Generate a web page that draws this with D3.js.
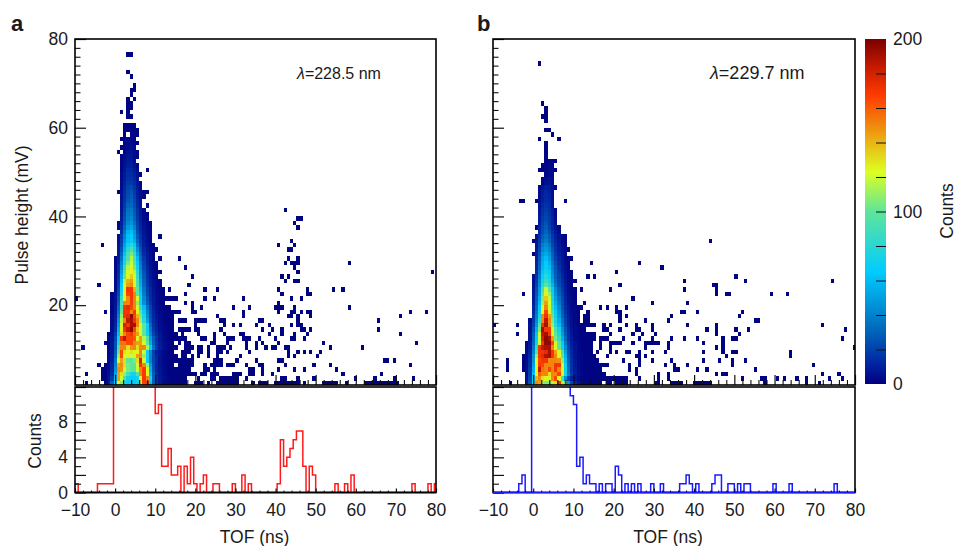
<!DOCTYPE html>
<html><head><meta charset="utf-8">
<style>html,body{margin:0;padding:0;background:#fff}svg{display:block}text{font-family:"Liberation Sans",Helvetica,Arial,sans-serif;fill:#1a1a1a}</style>
<script src="https://cdn.jsdelivr.net/npm/d3@7"></script></head><body><div id="c"></div>
<script>
const tofMajor=[-10,0,10,20,30,40,50,60,70,80];
const tofMinor=[-8,-6,-4,-2,2,4,6,8,12,14,16,18,22,24,26,28,32,34,36,38,42,44,46,48,52,54,56,58,62,64,66,68,72,74,76,78];
const heightMajor=[20,40,60,80];
const heightMinor=[4,6,8,10,12,14,16,18,22,24,26,28,30,32,34,36,38,42,44,46,48,50,52,54,56,58,62,64,66,68,70,72,74,76,78];
const countMajor=[0,2,4,6,8,10,12];
const countLabels=[0,4,8];
const countMinor=[1,3,5,7,9,11];
const barMajor=[0,100,200];
const barMinor=[20,40,60,80,120,140,160,180];
const colorValues=[0,10,34,65,100,123,146,167,185,200];
const colorStops=["#00007f","#001f9f","#0070c0","#00ccff","#5fe59a","#ddff22","#ee9a10","#ff3c00","#c01800","#7a0000"];

// [pulse-height bin (mV), first TOF bin, counts...]  TOF bin width 0.8 ns
const coreA=[
[2,9,2,12,30,65,125,105,75,68,65,65,70,130,165,170,62,28,14,8,5,3,2,1],
[3,9,1,6,18,60,145,120,95,70,66,66,72,125,170,150,70,30,15,8,5,3,2,1],
[4,9,1,5,14,50,145,130,110,90,75,72,95,150,168,125,60,28,14,7,4,2,1],
[5,9,1,4,12,45,150,148,125,105,100,98,120,150,168,125,55,26,12,7,4,2,1],
[6,9,1,4,12,40,145,150,130,105,100,100,120,170,150,110,50,24,12,6,3,2,1],
[7,10,3,10,35,120,145,130,100,100,105,130,180,125,65,40,22,12,6,3,2,1],
[8,10,3,9,30,110,165,125,125,120,125,145,150,110,70,40,22,12,6,3,2,1],
[9,10,2,8,28,100,165,130,125,130,125,125,150,120,68,40,20,10,6,3,2,1],
[10,10,2,7,25,90,150,150,130,148,150,130,150,150,115,65,35,18,10,5,3,2,1],
[11,10,2,7,25,75,155,155,165,165,150,145,145,125,100,55,30,16,9,5,3,2,1],
[12,10,2,6,22,70,170,185,165,165,160,125,145,115,95,50,28,15,8,4,2,1],
[13,10,1,5,18,60,130,150,165,170,155,145,125,100,70,40,22,12,7,3,2,1],
[14,11,4,14,55,125,170,185,195,165,135,120,100,65,35,18,10,5,3,2,1],
[15,11,4,12,50,125,180,170,190,190,150,125,100,68,32,16,9,5,3,1],
[16,11,3,10,45,115,150,185,190,170,150,110,80,50,26,14,8,4,2,1],
[17,11,3,9,40,110,170,175,195,165,140,105,75,45,24,12,7,4,2,1],
[18,11,2,8,35,100,170,170,150,170,125,100,68,40,22,12,6,3,2,1],
[19,11,2,7,32,90,170,175,165,150,125,85,60,35,20,10,5,3,1],
[20,11,2,6,28,90,150,150,168,150,110,72,45,28,16,8,4,2,1],
[21,11,2,6,25,85,125,150,170,150,120,70,42,25,14,8,4,2,1],
[22,11,1,5,22,75,125,165,170,150,100,65,38,22,13,7,4,2,1],
[23,12,4,20,70,120,170,170,140,100,60,35,20,12,6,3,2,1],
[24,12,4,18,65,120,145,150,125,95,55,32,18,10,5,3,1],
[25,12,4,16,60,115,140,145,125,90,52,30,16,9,5,3,1],
[26,12,3,14,55,100,125,135,120,85,48,28,14,8,4,2],
[27,12,3,12,50,95,125,125,115,80,44,25,13,7,4,2,1],
[28,12,3,12,45,85,115,125,105,70,40,22,12,6,3,1],
[29,12,3,10,40,75,105,120,100,65,36,20,10,5,3,1],
[30,12,3,9,35,70,95,115,95,60,32,18,9,5,2],
[31,13,8,30,62,90,105,85,52,28,14,8,4,2],
[32,13,7,26,56,80,95,75,45,24,12,7,3,1],
[33,13,6,22,50,70,80,65,38,20,10,5,2,1],
[34,13,5,20,44,62,68,55,32,18,9,4,2],
[35,13,4,18,40,60,65,50,28,16,8,4,2],
[36,14,14,35,55,60,46,24,14,7,3,2],
[37,13,3,12,30,48,52,40,22,12,6,3,1],
[38,13,2,10,26,42,46,34,20,10,5,2,1],
[39,14,9,24,38,42,30,18,9,4,2],
[40,14,8,22,36,38,28,16,8,3],
[41,14,7,20,34,36,26,15,7,3],
[42,14,6,18,30,32,24,13,6,0,2],
[43,14,6,16,26,30,22,12,5],
[44,14,5,14,24,28,20,10,4,2],
[45,13,1,5,14,22,26,18,9,4,2,1],
[46,14,4,12,20,22,16,8,3],
[47,14,4,10,18,18,14,7,3],
[48,14,3,9,16,15,12,6],
[49,14,3,8,14,14,10,5,2],
[50,14,2,7,12,12,8,4],
[51,14,2,6,10,10,6,3],
[52,14,2,5,8,8,5],
[53,14,1,4,7,7,4,2],
[54,15,1,5,6,4,2],
[55,14,1,3,4,5,3],
[56,15,2,4,3,2,1],
[57,14,1,2,3,3,1],
[58,15,1,0,2,2,1],
[59,15,1,1,2,2,1],
[60,15,1,1,1,1]];
// [pulse-height bin, isolated occupied TOF bins...]
const sparseA=[
[2,3,30,31,32,33,34,37,38,39,41,44,45,46,47,48,49,50,55,57,58,59,62,63,64,65,66,67,68,69,71,77,78,79,80,81,84,90,91,92,93,94,95,96,97,98,99,100],
[3,8,29,30,31,32,33,34,38,42,43,45,46,47,48,49,50,53,64,65,69,74,87,93,99,105],
[4,3,8,29,30,31,32,33,34,35,36,37,39,40,42,43,44,49,50,51,54,55,58,61,83,95],
[5,8,28,29,30,31,32,33,34,35,40,41,43,54,55,58,63,68,71,81],
[6,7,28,29,30,32,33,34,35,36,40,42,43,44,45,47,48,49,53,57,58,65,74,79,104],
[7,28,29,30,31,32,33,34,35,36,43,44,45,50,56,63,64,96,97,99],
[8,28,29,30,31,33,34,36,38,41,44,51,66,68,75],
[9,28,29,30,33,34,35,38,39,41,44,45,47,54,66,69,71,73,76],
[10,2,28,29,30,31,34,35,36,38,39,41,44,45,46,48,53,56,59,61,62,65,66,79,89],
[11,9,28,29,30,32,34,35,42,43,47,53,56,58,63,77,106],
[12,27,28,29,30,31,32,33,34,39,40,43,47,48,49,52,53,54,57,62,67,68,71],
[13,27,28,29,30,31,33,38,43,46,51,52,60,64,68,72,101],
[14,27,28,30,32,33,34,35,37,38,45,58,61,64,70,71,73,94],
[15,28,29,30,37,46,49,51,56,60,67,69,70],
[16,28,29,30,32,33,34,37,38,39,40,45,46,57,58,69,94],
[17,28,29,30,44,52,66,67,69,73,101],
[18,9,29,30,31,32,36,37,52,63,67,68,70,72,73,104,109],
[19,28,29,36,39,49,54,62,63,64,68,85],
[20,34,36,63],
[21,0,28,29,30,31,40,43,52,67,70],
[22,34,64,72,73],
[23,26,29,40,44,63,72,80,83],
[24,7,35],
[25,65,68,69],
[26,36,64,66],
[27,69,111],
[28,34,68],
[29,65,67,68,69,85],
[30,26,32,66,69],
[32,25,66,67],
[33,8,63,68],
[34,67],
[35,26],
[37,69],
[38,68],
[39,69,70],
[40,22],
[41,65],
[50,22],
[54,13],
[62,16,17],
[63,14,16],
[64,16,17],
[65,16,17],
[66,16,18],
[67,17],
[68,17,18],
[69,18],
[71,17],
[72,16],
[76,16,17]];
const histA=[1,0,0,0,0,0,0,1,1,1,1,1,15,15,15,15,15,15,15,15,15,15,15,15,15,9,10,3,3,5,2,2,3,0,3,1,4,1,0,1,2,0,0,1,1,0,0,0,0,1,0,0,2,0,1,0,0,0,0,0,0,0,0,1,6,3,4,5,6,7,7,3,0,3,2,0,0,0,0,0,0,1,0,0,1,0,2,0,0,0,0,0,0,0,0,0,0,0,0,0,0,0,0,0,0,1,0,0,0,0,1,0,1];

const coreB=[
[2,10,8,25,70,150,145,110,105,105,115,130,170,130,100,45,22,12,7,4,2,1],
[3,10,6,22,65,140,150,130,125,125,150,165,125,90,42,20,10,6,3,2,1],
[4,10,5,20,60,125,160,150,150,130,150,150,165,125,72,38,18,9,5,3,1],
[5,10,5,18,55,125,185,155,150,165,150,170,150,125,70,35,16,8,4,2,1],
[6,10,4,16,50,120,170,165,150,150,150,170,170,120,68,32,15,8,4,2,1],
[7,10,4,14,48,125,165,170,170,150,150,150,148,110,62,30,14,7,4,2,1],
[8,10,3,12,45,110,170,175,188,190,170,150,125,100,55,28,13,6,3,2,1],
[9,10,3,10,40,95,170,170,175,190,170,145,125,90,50,25,12,6,3,2,1],
[10,10,3,9,36,85,170,185,190,190,150,125,100,70,42,22,11,6,3,1],
[11,10,2,8,32,70,125,170,195,195,165,125,100,65,38,20,10,5,3,1],
[12,11,7,30,65,120,180,195,190,145,105,85,55,32,16,8,4,2,1],
[13,11,6,28,62,125,185,190,170,125,100,78,50,28,14,7,3,2,1],
[14,11,5,24,55,105,190,170,170,125,95,70,45,25,13,6,3,2,1],
[15,11,5,20,48,100,170,190,150,110,80,60,38,22,11,5,3,1],
[16,11,4,18,42,85,150,185,150,105,75,55,34,20,10,5,2,1],
[17,12,16,38,75,150,170,145,100,70,50,30,18,9,5,2,1],
[18,12,14,35,70,125,165,125,95,65,46,28,16,8,4,2,1],
[19,12,12,32,65,120,150,120,85,60,42,26,14,7,3,2,1],
[20,12,10,30,60,110,145,122,80,55,38,24,12,6,3,1],
[21,12,9,28,55,105,135,118,75,50,34,22,11,5,3,1],
[22,12,8,26,50,100,125,110,70,46,30,20,10,5,2,1],
[23,12,7,24,48,90,118,100,65,42,28,18,9,4,2,1],
[24,12,6,20,44,80,100,85,58,36,24,16,8,4,2],
[25,12,5,18,42,72,88,78,52,32,22,14,7,3,2,1],
[26,12,5,16,38,66,80,70,46,30,20,12,6,3,1],
[27,13,14,35,62,72,66,42,28,18,10,5,3,1],
[28,13,12,32,58,68,60,40,26,16,9,5,2],
[29,13,12,30,55,65,56,36,24,14,8,4,2],
[30,13,10,28,52,60,50,32,20,12,7,3,2,1],
[31,12,1,9,25,48,54,46,30,18,10,6,3],
[32,13,8,22,42,48,40,26,16,9,5,3,1],
[33,13,7,20,38,44,36,22,14,8,4,2],
[34,12,1,6,18,32,38,30,20,12,7,3,1],
[35,13,5,16,28,34,28,18,10,6,3,1],
[36,14,14,24,30,24,14,8,4],
[37,13,1,12,22,28,20,12,6,3],
[38,14,10,20,25,18,10,5],
[39,14,9,18,22,17,10,4],
[40,14,8,16,20,16,9,3],
[41,14,7,15,18,15,8,3],
[42,14,6,13,16,13,6],
[43,13,1,5,11,14,12,5],
[44,14,4,10,13,11,5],
[45,14,4,9,12,10,4],
[46,14,3,7,10,9,5,2],
[47,15,2,5,6,4],
[48,15,2,4,6,4],
[49,16,2,4,3],
[50,14,1,1,2,3,3,1],
[51,15,1,2,3,2],
[52,16,1,2,2,1],
[53,16,1],
[54,16,1],
[55,16,1],
[56,16,1]];
const sparseB=[
[2,5,11,30,31,32,33,35,36,38,39,40,41,50,51,55,56,57,58,62,63,64,65,66,67,84,97,101],
[3,29,30,31,32,33,34,35,36,37,38,39,40,41,45,51,54,77,83,84,88,90,94,97,104,108],
[4,29,30,31,32,33,34,44,51,54,69,71,72,102,107],
[5,4,9,29,30,31,32,33,42,44,56,57,63,66,81],
[6,4,9,29,30,31,32,33,34,35,42,45,53,56,60,74,99],
[7,4,9,29,30,31,32,40,45,49,55,65,70,74,78],
[8,9,28,29,30,31,35,44,45,47,72,92],
[9,28,29,30,32,36,38,41,42,45,49,53,65,71,74,75,92],
[10,10,28,29,30,33,36,47,54,69,71,112],
[11,28,29,30,33,36,37,38,39,43,47,48,49,50,51,54,65,71],
[12,28,29,30,31,33,34,35,40,45,49,55,59,63,71,74,75,108],
[13,7,28,29,30,31,36,43,46,50,69,76],
[14,11,27,28,34,35,39,44,45,49,66,69,75,79,109],
[15,0,7,26,27,28,29,30,31,34,36,41,44,49,60,69,102],
[16,28,29,39,47,54,81,82],
[17,28,29,39,41,55,76],
[18,25,26,29,38,39,58,59,63,77],
[19,25,26,27,33,35,38,41],
[20,28,49,60],
[21,25,43],
[22,9,69,72,73,86,91],
[23,25,27,36,59,69],
[24,39,68,69],
[25,24,25,59,78,105],
[26,29,31,75],
[27,38],
[28,52],
[29,30,45],
[34,67],
[43,8,9,22],
[50,14,19],
[57,14,20],
[58,18],
[59,16,17],
[61,16],
[62,15,16],
[63,16],
[64,16],
[65,15],
[74,14]];
const histB=[0,0,0,0,0,0,0,0,1,2,0,0,15,15,15,15,15,15,15,15,15,15,15,15,11,10,3,4,1,2,1,1,0,1,0,1,1,0,3,2,0,1,0,1,0,1,0,0,0,1,0,0,1,0,0,0,0,0,1,1,2,1,0,1,0,0,0,0,1,2,2,0,0,1,1,0,1,0,1,1,0,0,0,0,0,0,0,1,0,0,0,0,1,0,0,0,0,0,0,0,0,0,0,0,0,0,1,0,0,0,0,0,0];

const panels=[
 {id:"a",x0:75,x1:436,core:coreA,sparse:sparseA,hist:histA,color:"#ff1a1a",lambda:"=228.5 nm",lx:297,lfs:16,labelX:11,yLabels:true},
 {id:"b",x0:493,x1:855,core:coreB,sparse:sparseB,hist:histB,color:"#1a1aff",lambda:"=229.7 nm",lx:710,lfs:18,labelX:477,yLabels:false}
];
const W=956,H=546,top2=39,bot2=385,top1=387,bot1=492.5,fs=17.5;
const svg=d3.select("#c").append("svg").attr("width",W).attr("height",H);
const color=d3.scaleLinear().domain(colorValues).range(colorStops).clamp(true);
const binW=0.8;

panels.forEach((p,i)=>{
  const x=d3.scaleLinear().domain([-10,80]).range([p.x0,p.x1]);
  const y=d3.scaleLinear().domain([2,80]).range([bot2,top2]);
  const yh=d3.scaleLinear().domain([0,12]).range([bot1,top1]);
  const g=svg.append("g");
  const cid="clip"+i, cid2="cliph"+i;
  const defs=svg.append("defs");
  defs.append("clipPath").attr("id",cid).append("rect").attr("x",p.x0).attr("y",top2).attr("width",p.x1-p.x0).attr("height",bot2-top2);
  defs.append("clipPath").attr("id",cid2).append("rect").attr("x",p.x0).attr("y",top1).attr("width",p.x1-p.x0).attr("height",bot1-top1+1);
  const cells=[];
  p.sparse.forEach(r=>r.slice(1).forEach(c=>cells.push({h:r[0],c:c,v:1})));
  p.core.forEach(r=>r.slice(2).forEach((v,k)=>{if(v>0)cells.push({h:r[0],c:r[1]+k,v:v});}));
  g.append("g").attr("clip-path",`url(#${cid})`).attr("shape-rendering","crispEdges")
   .selectAll("rect").data(cells).join("rect")
   .attr("x",d=>x(-10+binW*d.c)).attr("width",d=>x(-10+binW*(d.c+1))-x(-10+binW*d.c))
   .attr("y",d=>y(d.h+1)).attr("height",d=>y(d.h)-y(d.h+1)).attr("fill",d=>color(d.v));

  const line=d3.line().curve(d3.curveStepAfter).x(d=>x(-10+binW*d[0])).y(d=>yh(d[1]));
  const pts=p.hist.map((v,k)=>[k,v]);pts.push([p.hist.length,p.hist[p.hist.length-1]]);
  g.append("path").attr("clip-path",`url(#${cid2})`).attr("d",line(pts)).attr("fill","none").attr("stroke",p.color).attr("stroke-width",1.5);

  const style=(s,sw)=>{s.select(".domain").remove();s.selectAll("line").attr("stroke","#111").attr("stroke-width",sw);s.selectAll("text").attr("font-size",fs).attr("fill","#1a1a1a").attr("font-family",'"Liberation Sans",Arial,sans-serif');};
  g.append("g").attr("transform",`translate(0,${bot2})`).call(d3.axisBottom(x).tickValues(tofMajor).tickSize(-10).tickFormat("")).call(style,1.2);
  g.append("g").attr("transform",`translate(0,${bot2})`).call(d3.axisBottom(x).tickValues(tofMinor).tickSize(-5).tickFormat("")).call(style,1.1);
  g.append("g").attr("transform",`translate(${p.x0},0)`).call(d3.axisLeft(y).tickValues(heightMajor).tickSize(-11).tickPadding(7).tickFormat(p.yLabels?d3.format("d"):"")).call(style,1.2);
  g.append("g").attr("transform",`translate(${p.x0},0)`).call(d3.axisLeft(y).tickValues(heightMinor).tickSize(-5.5).tickFormat("")).call(style,1.1);
  g.append("g").attr("transform",`translate(0,${bot1})`).call(d3.axisBottom(x).tickValues(tofMajor).tickSize(-4).tickPadding(11)).call(style,1.2);
  g.append("g").attr("transform",`translate(0,${bot1})`).call(d3.axisBottom(x).tickValues(tofMinor).tickSize(-2).tickFormat("")).call(style,1);
  g.append("g").attr("transform",`translate(${p.x0},0)`).call(d3.axisLeft(yh).tickValues(countMajor).tickSize(-11).tickPadding(7).tickFormat(d=>(p.yLabels&&countLabels.includes(d))?d:"")).call(style,1.2);
  g.append("g").attr("transform",`translate(${p.x0},0)`).call(d3.axisLeft(yh).tickValues(countMinor).tickSize(-6).tickFormat("")).call(style,1.1);
  g.append("rect").attr("x",p.x0).attr("y",top2).attr("width",p.x1-p.x0).attr("height",bot2-top2).attr("fill","none").attr("stroke","#000").attr("stroke-width",1.6);
  g.append("rect").attr("x",p.x0).attr("y",top1).attr("width",p.x1-p.x0).attr("height",bot1-top1).attr("fill","none").attr("stroke","#000").attr("stroke-width",1.6);
  g.append("line").attr("x1",p.x0).attr("x2",p.x1).attr("y1",bot1).attr("y2",bot1).attr("stroke","#000").attr("stroke-width",1.5);
  if(i===1) g.append("line").attr("x1",p.x0).attr("x2",p.x1).attr("y1",bot1).attr("y2",bot1).attr("stroke",p.color).attr("stroke-width",1.2);
  svg.append("text").attr("x",p.labelX).attr("y",31).attr("font-size",22).attr("font-weight","bold").attr("fill","#000").text(p.id);
  const l=svg.append("text").attr("x",p.lx).attr("y",79).attr("font-size",p.lfs);
  l.append("tspan").attr("font-style","italic").text("λ");
  l.append("tspan").text(p.lambda);
  svg.append("text").attr("x",(p.x0+p.x1)/2-(i?5:0)-1).attr("y",543).attr("text-anchor","middle").attr("font-size",fs).text("TOF (ns)");
});
svg.append("text").attr("transform","translate(28,215) rotate(-90)").attr("text-anchor","middle").attr("font-size",fs).text("Pulse height (mV)");
svg.append("text").attr("transform","translate(41,441) rotate(-90)").attr("text-anchor","middle").attr("font-size",fs).text("Counts");

const cx0=865,cx1=886;
const cy=d3.scaleLinear().domain([0,200]).range([384,39]);
const grad=svg.append("defs").append("linearGradient").attr("id","cb").attr("x1",0).attr("x2",0).attr("y1",1).attr("y2",0);
grad.selectAll("stop").data(colorValues).join("stop").attr("offset",d=>d/200).attr("stop-color",d=>color(d));
svg.append("rect").attr("x",cx0).attr("y",39).attr("width",cx1-cx0).attr("height",345).attr("fill","url(#cb)");
const barAxis=svg.append("g").attr("transform",`translate(${cx1},0)`);
barAxis.call(d3.axisRight(cy).tickValues(barMajor).tickSize(0).tickPadding(7).tickFormat(d3.format("d")));
barAxis.select(".domain").remove();
barAxis.selectAll("text").attr("font-size",fs).attr("fill","#1a1a1a").attr("font-family",'"Liberation Sans",Arial,sans-serif');
const barTicks=svg.append("g").attr("transform",`translate(${cx1},0)`);
barTicks.call(d3.axisRight(cy).tickValues(barMinor.concat([100])).tickSize(-10).tickFormat(""));
barTicks.select(".domain").remove();
barTicks.selectAll("line").attr("stroke","#111").attr("stroke-width",1);
svg.append("text").attr("transform","translate(953,211) rotate(-90)").attr("text-anchor","middle").attr("font-size",fs).text("Counts");
</script></body></html>
